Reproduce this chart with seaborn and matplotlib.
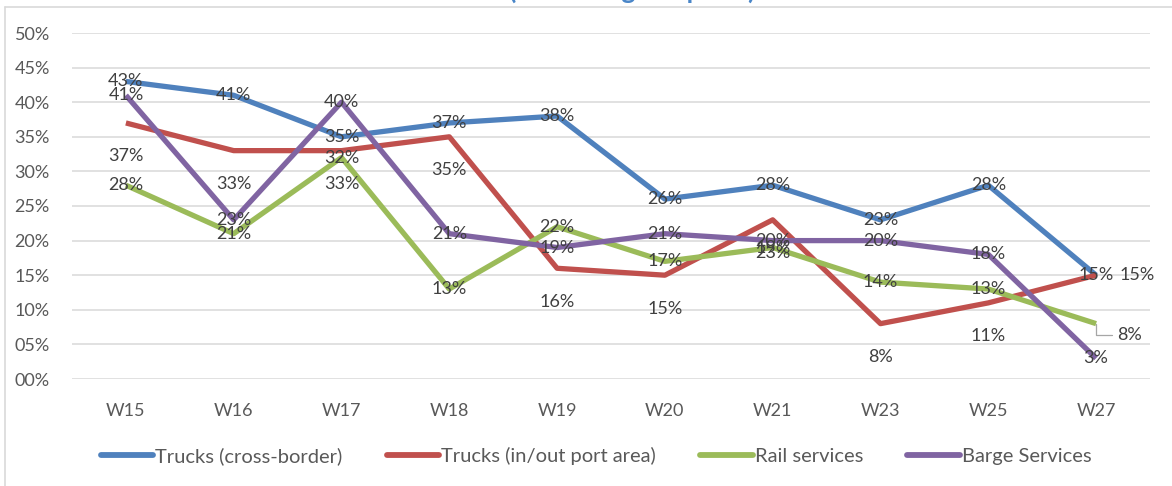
import matplotlib
matplotlib.use("Agg")
import matplotlib.pyplot as plt
from matplotlib import font_manager
from matplotlib.lines import Line2D
import seaborn as sns
import pandas as pd

# Weekly share of ports reporting disruption, per transport mode
weeks = ["W15", "W16", "W17", "W18", "W19", "W20", "W21", "W23", "W25", "W27"]
trucks_cross_border = [43, 41, 35, 37, 38, 26, 28, 23, 28, 15]
trucks_port_area = [37, 33, 33, 35, 16, 15, 23, 8, 11, 15]
rail_services = [28, 21, 32, 13, 22, 17, 19, 14, 13, 8]
barge_services = [41, 23, 40, 21, 19, 21, 20, 20, 18, 3]

series_names = ["Trucks (cross-border)", "Trucks (in/out port area)",
                "Rail services", "Barge Services"]
series_values = [trucks_cross_border, trucks_port_area, rail_services, barge_services]
colors = ["#4F81BD", "#C0504D", "#9BBB59", "#8064A2"]
y_ticks = [0, 5, 10, 15, 20, 25, 30, 35, 40, 45, 50]

rows = []
for name, vals in zip(series_names, series_values):
    for w, v in zip(weeks, vals):
        rows.append({"week": w, "series": name, "value": v})
df = pd.DataFrame(rows)

sns.set_theme(style="white")
installed = {f.name for f in font_manager.fontManager.ttflist}
base_font = next((f for f in ["Lato", "Open Sans", "DejaVu Sans"] if f in installed), "DejaVu Sans")
plt.rcParams["font.family"] = [base_font, "DejaVu Sans"]

W, H, DPI = 1172, 486, 100
fig = plt.figure(figsize=(W / DPI, H / DPI), dpi=DPI)
left, right, top, bottom = 72, 1150, 33, 379
ax = fig.add_axes([left / W, 1 - bottom / H, (right - left) / W, (bottom - top) / H])

sns.lineplot(data=df, x="week", y="value", hue="series", palette=colors,
             hue_order=series_names, linewidth=3.8, sort=False, ax=ax,
             legend=False, solid_capstyle="butt")

ax.set_xlim(-0.5, len(weeks) - 0.5)
ax.set_ylim(0, 50)
ax.set_yticks(y_ticks)
ax.set_yticklabels([f"{v:02d}%" for v in y_ticks])
ax.set_xlabel("")
ax.set_ylabel("")
ax.grid(axis="y", color="#D9D9D9", linewidth=1.1)
ax.grid(axis="x", visible=False)
for s in ax.spines.values():
    s.set_visible(False)
ax.tick_params(axis="both", length=0, colors="#595959", labelsize=13)
ax.tick_params(axis="y", pad=16)
ax.tick_params(axis="x", pad=17)
ax.set_axisbelow(True)

label_color = "#404040"
label_size = 13
last = len(weeks) - 1
for si, (name, vals) in enumerate(zip(series_names, series_values)):
    for i, v in enumerate(vals):
        ha, dx, dy = "center", 0, 0
        if si == 1:
            dy = -24
            if i == last:
                ha, dx, dy = "left", 17, 0
        if si == 2 and i == last:
            # label moved off the line, tied back with a leader
            ax.annotate(f"{v}%", xy=(i, v), xytext=(15, -8), textcoords="offset points",
                        ha="left", va="center", color=label_color, fontsize=label_size,
                        arrowprops=dict(arrowstyle="-", color="#A6A6A6", lw=0.9,
                                        connectionstyle="angle,angleA=0,angleB=90,rad=0",
                                        shrinkA=1, shrinkB=0))
            continue
        ax.annotate(f"{v}%", xy=(i, v), xytext=(dx, dy), textcoords="offset points",
                    ha=ha, va="center", color=label_color, fontsize=label_size)

handles = [Line2D([0], [0], color=c, lw=4.2) for c in colors]
fig.legend(handles, series_names, loc="center", bbox_to_anchor=(596 / W, 1 - 456 / H),
           ncol=4, frameon=False, fontsize=14.5, handlelength=2.6, handletextpad=0.1,
           columnspacing=2.2, labelcolor="#595959")

# chart frame edges and the clipped heading above it
fig.add_artist(Line2D([5 / W, 5 / W], [0, 1 - 7 / H], color="#D9D9D9", lw=1.2,
                      transform=fig.transFigure))
fig.add_artist(Line2D([5 / W, 1], [1 - 7 / H, 1 - 7 / H], color="#D9D9D9", lw=1.2,
                      transform=fig.transFigure))
fig.text(632 / W, 1 + 1.5 / H, "(Percentage of ports)", ha="center", va="baseline",
         color="#4A86C8", fontsize=19, fontweight="bold")

fig.savefig("out.png", dpi=DPI)
